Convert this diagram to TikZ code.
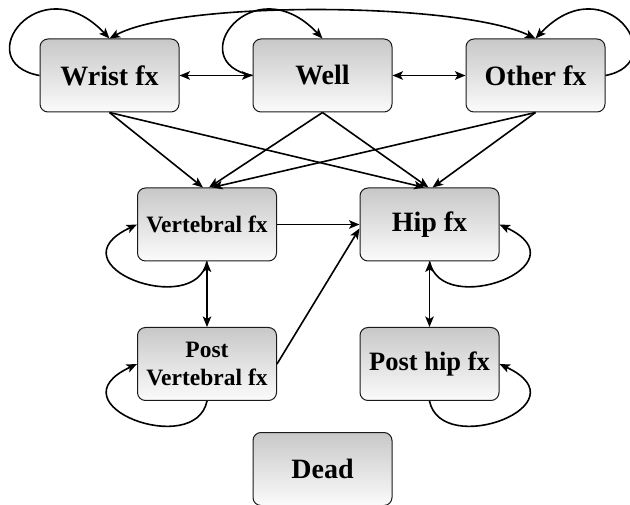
\documentclass[tikz,border=0pt]{standalone}
\usepackage{fontspec}
\setmainfont{Liberation Serif}
\usetikzlibrary{arrows.meta}
\definecolor{boxtop}{HTML}{C8C8C8}
\definecolor{boxbot}{HTML}{FBFBFB}
\definecolor{boxline}{HTML}{1A1A1A}
\begin{document}
\begin{tikzpicture}[x=1pt,y=-1pt,
  state/.style={draw=boxline, line width=1pt, rounded corners=8pt,
    top color=boxtop, bottom color=boxbot,
    minimum width=139pt, minimum height=73pt, inner sep=0pt,
    align=center, font=\bfseries\fontsize{28}{30}\selectfont},
  midtxt/.style={font=\bfseries\fontsize{26.5}{30}\selectfont},
  smalltxt/.style={font=\bfseries\fontsize{23.5}{28}\selectfont},
  >={Stealth[length=10.5pt,width=8.5pt,inset=2.5pt]},
  link/.style={line width=1.6pt, black},
]
\useasboundingbox (0,0) rectangle (630,505);

% states
\node[state] (wrist) at (109.5,75.5) {Wrist fx};
\node[state] (well)  at (322.5,75.5) {Well};
\node[state] (other) at (535.5,75.5) {Other fx};
\node[state, smalltxt] (vert)  at (207,224.5) {Vertebral fx};
\node[state] (hip)   at (429.5,224.5) {Hip fx};
\node[state, smalltxt] (pvert) at (207,364) {Post\\Vertebral fx};
\node[state, midtxt] (phip)  at (429.5,364) {Post hip fx};
\node[state] (dead)  at (322.5,469) {Dead};

% top row: neighbours and the long arc
\draw[link,<->] (wrist.east) -- (well.west);
\draw[link,<->] (well.east) -- (other.west);
\draw[link,<->] (wrist.north) .. controls (180,0) and (460,2) .. (other.north);

% self loops on the top row
\draw[link,->] (wrist.west) .. controls +(-72,-13) and +(-70,-74) .. (wrist.north);
\draw[link,->] (well.west)  .. controls +(-72,-13) and +(-70,-74) .. (well.north);
\draw[link,->] (other.east) .. controls +(68,-13) and +(70,-74) .. (other.north);

% top row down to the fracture states
\draw[link,->] (wrist.south) -- ([xshift=-4pt]vert.north);
\draw[link,->] (well.south)  -- ([xshift=2pt]vert.north);
\draw[link,->] (other.south) -- ([xshift=5pt]vert.north);
\draw[link,->] (wrist.south) -- ([xshift=-5pt]hip.north);
\draw[link,->] (well.south)  -- ([xshift=-1pt]hip.north);
\draw[link,->] (other.south) -- ([xshift=3pt]hip.north);

% middle and lower rows
\draw[link,->] (vert.east) -- (hip.west);
\draw[link,->] (pvert.east) -- ([yshift=-4pt]hip.west);
\draw[link,<->] (vert.south) -- (pvert.north);
\draw[link,<->] (hip.south) -- (phip.north);

% self loops on the fracture states
\draw[link,->] (vert.south)  .. controls +(-12,58) and +(-87,40.5) .. (vert.west);
\draw[link,->] (pvert.south) .. controls +(-12,58) and +(-87,40.5) .. (pvert.west);
\draw[link,->] (hip.south)   .. controls +(12,58) and +(87,40.5) .. (hip.east);
\draw[link,->] (phip.south)  .. controls +(12,58) and +(87,40.5) .. (phip.east);
\end{tikzpicture}
\end{document}
